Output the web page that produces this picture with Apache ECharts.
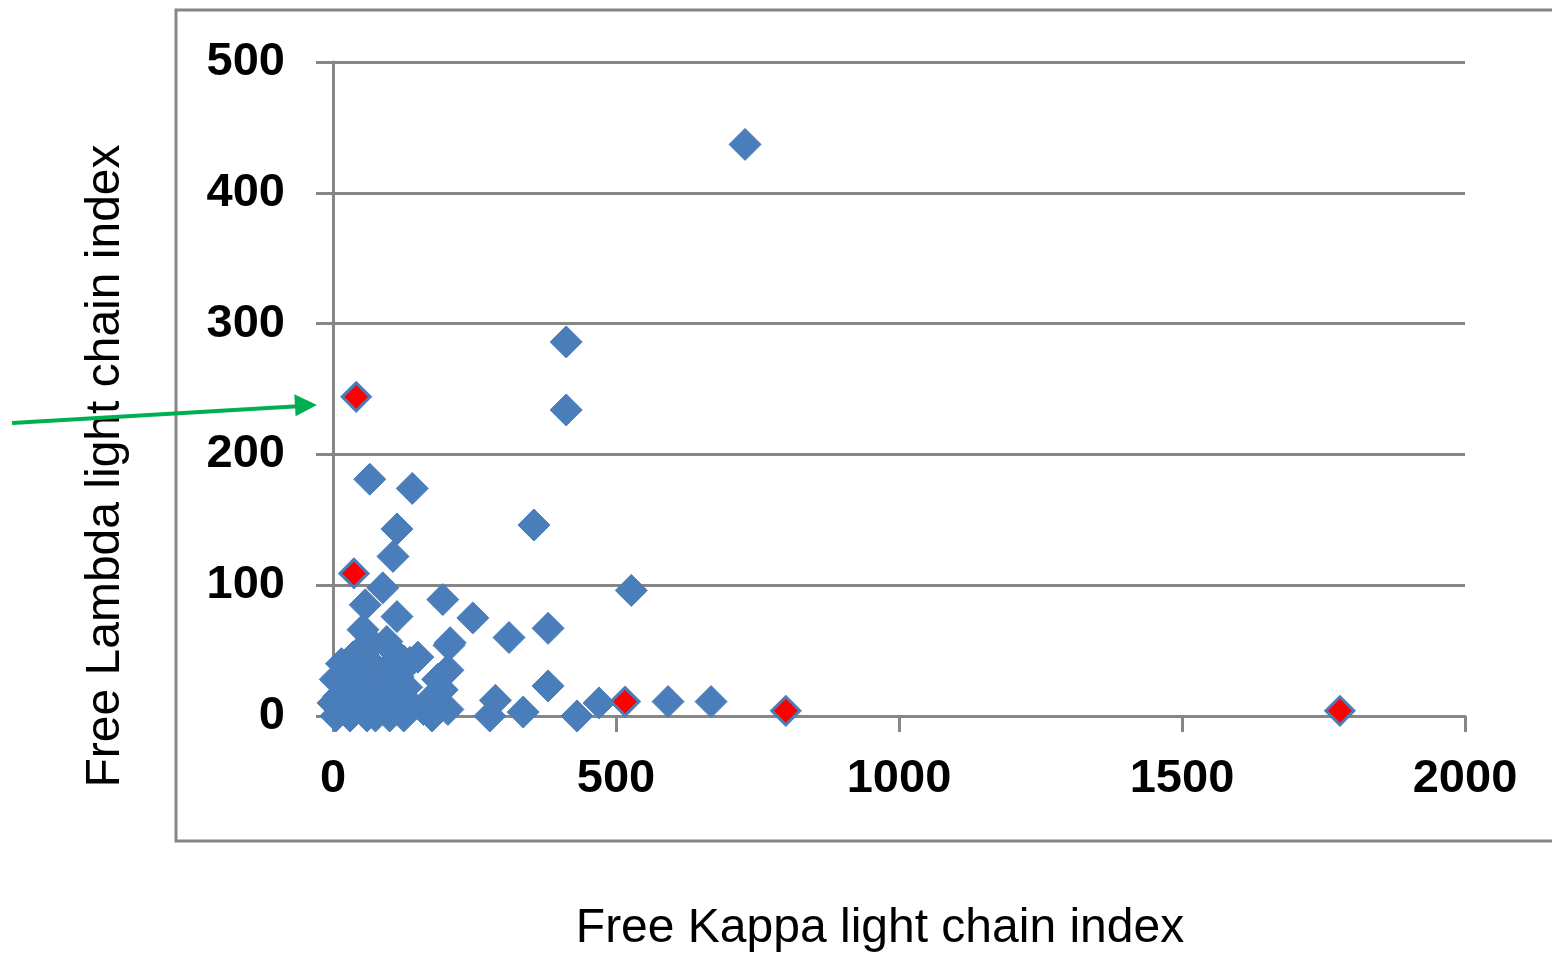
<!DOCTYPE html>
<html>
<head>
<meta charset="utf-8">
<script src="https://cdn.jsdelivr.net/npm/echarts@6/dist/echarts.min.js"></script>
<style>html,body{margin:0;padding:0;background:#fff}#c{width:1552px;height:957px}</style>
</head>
<body>
<div id="c"></div>
<script>
// Free Kappa (x) vs Free Lambda (y) light chain index
var blueKappa = [728,412,412,355,527,380,380,311,247,194,205,140,65,113,106,88,592,668,470,431,336,287,277,203,193,203,
  57,53,113,95,207,48,136,4,10,15,20,25,30,35,40,45,55,60,65,70,75,80,80,90,100,100,105,115,120,125,130,140,160,175,185,70,35,15,0,5,60,110,125,150,170];
var blueLambda = [437,286,234,146,96,67,23,60,75,89,54,174,181,143,122,98,11,11,10,0,3,12,0,35,20,5,
  85,66,76,57,56,50,41,28,15,5,30,20,0,12,35,25,5,40,18,30,0,10,35,25,0,38,15,30,8,0,22,8,5,0,28,55,45,40,10,0,0,48,42,45,12];
var redKappa = [41,37,516,800,1779];
var redLambda = [244,109,11,4,4];
var xTicks = {min:0, max:2000, interval:500};
var yTicks = {min:0, max:500, interval:100};

function pairs(a,b){return a.map(function(v,i){return [v,b[i]];});}

var chart = echarts.init(document.getElementById('c'));
var gray = '#868686';
var labelFont = {fontFamily:'Liberation Sans', fontWeight:'bold', fontSize:47, color:'#000'};
chart.setOption({
  animation:false,
  grid:{left:333, right:87, top:62, bottom:241, containLabel:false, outerBoundsMode:'none'},
  xAxis:{type:'value', min:xTicks.min, max:xTicks.max, interval:xTicks.interval,
    name:'Free Kappa light chain index', nameLocation:'middle', nameGap:189,
    nameTextStyle:{fontFamily:'Liberation Sans', fontSize:48, color:'#000', padding:[0,38,0,0]},
    splitLine:{show:false},
    axisLine:{onZero:false, lineStyle:{color:gray, width:3}},
    axisTick:{show:true, length:16, lineStyle:{color:gray, width:3}},
    axisLabel:Object.assign({margin:40, formatter:function(v){return String(v);}}, labelFont)},
  yAxis:{type:'value', min:yTicks.min, max:yTicks.max, interval:yTicks.interval,
    name:'Free Lambda light chain index', nameLocation:'middle', nameGap:203, nameRotate:90,
    nameTextStyle:{fontFamily:'Liberation Sans', fontSize:48, color:'#000', padding:[0,154,0,0]},
    splitLine:{show:true, lineStyle:{color:gray, width:3}},
    axisLine:{show:true, lineStyle:{color:gray, width:3}},
    axisTick:{show:true, length:17, lineStyle:{color:gray, width:3}},
    axisLabel:Object.assign({margin:48, formatter:function(v){return String(v);}}, labelFont)},
  series:[
    {type:'scatter', symbol:'diamond', symbolSize:32, data:pairs(blueKappa, blueLambda),
      itemStyle:{color:'#4a7ebb', opacity:1, borderColor:'#4a7ebb', borderWidth:1}},
    {type:'scatter', symbol:'diamond', symbolSize:28, data:pairs(redKappa, redLambda), z:3,
      itemStyle:{color:'#ff0000', opacity:1, borderColor:'#4a7ebb', borderWidth:3}}
  ],
  graphic:[
    {type:'rect', z:-1, shape:{x:176, y:10, width:1400, height:831}, style:{fill:null, stroke:gray, lineWidth:3}},
    {type:'line', z:10, shape:{x1:12, y1:423, x2:298, y2:406.2}, style:{stroke:'#00b050', lineWidth:4}},
    {type:'polygon', z:10, shape:{points:[[317,405],[295.6,416.3],[294.3,394.3]]}, style:{fill:'#00b050'}}
  ]
});
</script>
</body>
</html>
